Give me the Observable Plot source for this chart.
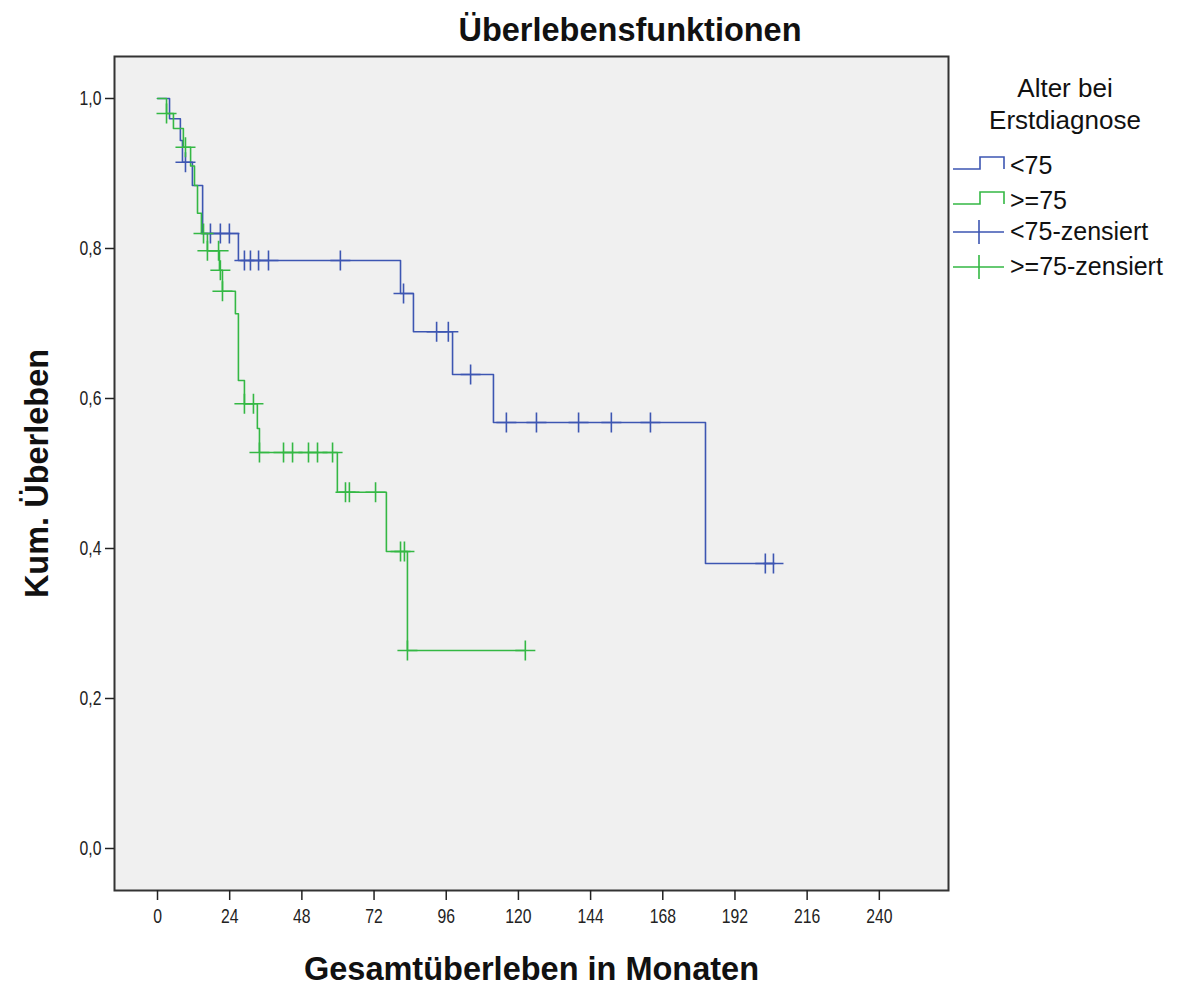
<!DOCTYPE html>
<html>
<head>
<meta charset="utf-8">
<script src="https://cdn.jsdelivr.net/npm/d3@7"></script>
<script src="https://cdn.jsdelivr.net/npm/@observablehq/plot@0.6"></script>
<style>
  body { margin: 0; background: #fff; font-family: "Liberation Sans", Arial, sans-serif; }
  #wrap { position: relative; width: 1187px; height: 988px; overflow: hidden; }
  #title { position: absolute; left: 380px; width: 500px; top: 13px; text-align: center;
           font-weight: bold; font-size: 32.5px; line-height: 34px; color: #111; }
  #chart { position: absolute; left: 0; top: 50px; }
  #legend { position: absolute; left: 948px; top: 60px; }
</style>
</head>
<body>
<div id="wrap">
  <div id="title">Überlebensfunktionen</div>
  <div id="chart"></div>
  <div id="legend"></div>
</div>
<script>
// Kaplan-Meier estimates, months since first diagnosis
const groups = ["<75", ">=75"];
const groupColors = ["#3d56b2", "#34b844"];

// Age < 75: event times and survival after each event
const youngEventMonths = [4.0, 7.6, 8.3, 11.6, 15.0, 26.9, 80.8, 85.1, 98.1, 111.7, 182.2];
const youngSurvival    = [0.973, 0.944, 0.915, 0.884, 0.820, 0.784, 0.740, 0.689, 0.632, 0.568, 0.380];
const youngCensoredMonths = [9.3, 17.6, 20.9, 23.9, 28.9, 30.9, 33.6, 36.9, 60.8, 81.8, 92.8, 96.7,
                             104.1, 116.0, 126.0, 140.0, 150.9, 163.9, 202.1, 204.8];

// Age >= 75
const oldEventMonths = [3.0, 5.3, 8.6, 11.0, 12.3, 13.3, 14.6, 16.6, 20.6, 21.6, 25.9, 26.9,
                        28.9, 33.2, 33.9, 59.8, 76.1, 83.1];
const oldSurvival    = [0.980, 0.960, 0.935, 0.910, 0.884, 0.847, 0.820, 0.797, 0.771, 0.743, 0.713, 0.624,
                        0.593, 0.560, 0.528, 0.475, 0.396, 0.264];
const oldCensoredMonths = [3.0, 9.3, 15.3, 16.6, 20.3, 20.9, 21.6, 28.9, 31.9, 33.9, 41.9, 44.9,
                           50.2, 53.2, 58.2, 62.5, 63.8, 72.5, 80.8, 82.1, 83.1, 122.3];

const xTicks = [0, 24, 48, 72, 96, 120, 144, 168, 192, 216, 240];
const yTicks = [0, 0.2, 0.4, 0.6, 0.8, 1.0];

const xLabel = "Gesamtüberleben in Monaten";
const yLabel = "Kum. Überleben";
const legendTitle = ["Alter bei", "Erstdiagnose"];
const legendItems = ["<75", ">=75", "<75-zensiert", ">=75-zensiert"];

// Build step curves and censor marks
function survivalAt(times, surv, t) {
  let s = 1;
  for (let i = 0; i < times.length; i++) if (times[i] <= t) s = surv[i];
  return s;
}
function curve(group, times, surv, censored) {
  const pts = [{group, t: 0, s: 1}];
  times.forEach((t, i) => pts.push({group, t, s: surv[i]}));
  const end = Math.max(d3.max(times), d3.max(censored));
  pts.push({group, t: end, s: survivalAt(times, surv, end)});
  return pts;
}
function marks(group, times, surv, censored) {
  return censored.map(t => ({group, t, s: survivalAt(times, surv, t)}));
}

const steps = [
  ...curve("<75", youngEventMonths, youngSurvival, youngCensoredMonths),
  ...curve(">=75", oldEventMonths, oldSurvival, oldCensoredMonths)
];
const censors = [
  ...marks("<75", youngEventMonths, youngSurvival, youngCensoredMonths),
  ...marks(">=75", oldEventMonths, oldSurvival, oldCensoredMonths)
];

const fmt = d => d.toFixed(1).replace(".", ",");

const plot = Plot.plot({
  width: 950,
  height: 938,
  marginTop: 6,
  marginBottom: 98,
  marginLeft: 114,
  marginRight: 2,
  style: { fontFamily: "'Liberation Sans', Arial, sans-serif", color: "#222", background: "transparent" },
  x: { domain: [-14.3, 263], ticks: xTicks },
  y: { domain: [-0.056, 1.056], ticks: yTicks },
  color: { domain: groups, range: groupColors },
  marks: [
    Plot.frame({ fill: "#f0f0f0", stroke: null }),
    Plot.line(steps, { x: "t", y: "s", z: "group", stroke: "group", curve: "step-after", strokeWidth: 1.6 }),
    Plot.dot(censors, { x: "t", y: "s", stroke: "group", symbol: "plus", r: 6.5, strokeWidth: 1.6, fill: "none" }),
    Plot.frame({ stroke: "#333", strokeWidth: 2 }),
    Plot.axisX({ ticks: xTicks, tickSize: 10, tickPadding: 8, fontSize: 21, label: null, stroke: "#222", strokeWidth: 1.5 }),
    Plot.axisY({ ticks: yTicks, tickSize: 9, tickPadding: 4, fontSize: 21, label: null, tickFormat: fmt, stroke: "#222", strokeWidth: 1.5 }),
    Plot.text([xLabel], { frameAnchor: "bottom", dy: 79, text: d => d, fontSize: 32.5, fontWeight: "bold", textAnchor: "middle", lineAnchor: "middle", fill: "#111" }),
    Plot.text([yLabel], { frameAnchor: "left", dx: -77, text: d => d, fontSize: 32.5, fontWeight: "bold", rotate: -90, textAnchor: "middle", lineAnchor: "middle", fill: "#111" })
  ]
});
document.getElementById("chart").appendChild(plot);

// Tick labels: horizontally condensed digits
d3.select(plot).selectAll('g[aria-label$="tick label"] text').each(function () {
  const t = this.getAttribute("transform") || "";
  this.setAttribute("transform", t + " scale(0.75,1)");
});

// Legend
const leg = d3.select("#legend").append("svg")
  .attr("width", 239).attr("height", 240)
  .style("font-family", "'Liberation Sans', Arial, sans-serif");
leg.selectAll("text.title").data(legendTitle).join("text")
  .attr("x", 117).attr("y", (d, i) => 37 + i * 32)
  .attr("text-anchor", "middle").attr("font-size", 26).attr("fill", "#111").text(d => d);
const rowY = [106, 141, 172, 207];
legendItems.forEach((label, i) => {
  const color = groupColors[i % 2];
  const y = rowY[i];
  if (i < 2) {
    leg.append("path")
      .attr("d", `M5,${y + 3}H32V${y - 9}H56V${y + 3}`)
      .attr("fill", "none").attr("stroke", color).attr("stroke-width", 1.6);
  } else {
    leg.append("path")
      .attr("d", `M5,${y}H56M31,${y - 12}V${y + 12}`)
      .attr("fill", "none").attr("stroke", color).attr("stroke-width", 1.6);
  }
  leg.append("text").attr("x", 62).attr("y", y + 8)
    .attr("font-size", 25).attr("fill", "#111").text(label);
});
</script>
</body>
</html>
